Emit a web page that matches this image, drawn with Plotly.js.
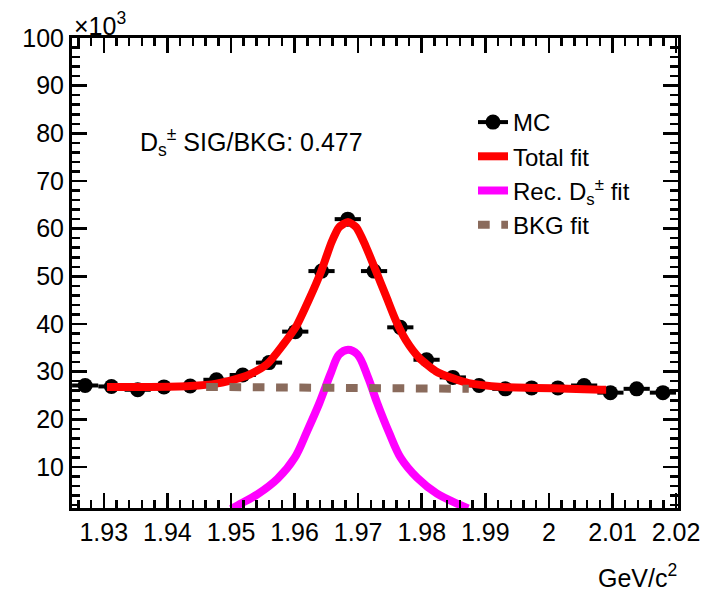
<!DOCTYPE html>
<html><head><meta charset="utf-8">
<script src="https://cdn.plot.ly/plotly-3.0.1.min.js"></script>
<style>html,body{margin:0;padding:0;background:#fff}#chart{width:702px;height:591px}</style>
</head><body><div id="chart"></div>
<script>
// MC histogram (counts in units of 10^3)
const mcX = [1.92707,1.93120,1.93533,1.93946,1.94359,1.94772,1.95185,1.95598,1.96011,1.96424,1.96837,1.97250,1.97663,1.98076,1.98489,1.98902,1.99315,1.99728,2.00141,2.00554,2.00967,2.01380,2.01793];
const mcY = [27.1,26.9,26.2,26.8,27.0,28.3,29.3,31.9,38.4,51.1,62.0,51.1,39.3,32.5,28.8,27.1,26.4,26.6,26.6,27.1,25.6,26.4,25.6];
const mcHalfBin = 0.00206;

// Total fit
const totX = [1.9305,1.9372,1.9435,1.9477,1.9517,1.9529,1.9557,1.9581,1.9603,1.9623,1.9642,1.9658,1.9670,1.9684,1.9697,1.9712,1.9728,1.9744,1.9759,1.9775,1.9796,1.9822,1.9847,1.9874,1.9926,1.9979,2.0031,2.0082,2.0090];
const totY = [26.8,26.8,27.0,27.5,28.8,29.4,31.6,35.5,39.6,45.2,51.1,57.1,60.3,61.4,60.3,56.3,51.1,45.8,40.8,36.6,32.9,30.1,28.7,27.6,26.8,26.6,26.4,26.2,26.2];

// Signal (Rec. Ds) fit
const sigX = [1.9500,1.9511,1.9542,1.9573,1.9600,1.9620,1.9639,1.9657,1.9670,1.9684,1.9699,1.9715,1.9730,1.9749,1.9767,1.9793,1.9824,1.9861,1.9873];
const sigY = [1.2,2.0,4.3,7.5,11.9,17.6,23.4,29.7,33.6,34.6,33.6,29.0,23.4,17.1,11.9,7.7,4.4,2.0,1.3];

// Background fit
const bkgX = [1.9461,1.9670,1.9874];
const bkgY = [26.8,26.6,26.4];

// Axis ticks
const xTickVals = [1.93,1.94,1.95,1.96,1.97,1.98,1.99,2.00,2.01,2.02];
const xTickText = ['1.93','1.94','1.95','1.96','1.97','1.98','1.99','2','2.01','2.02'];
const yTickVals = [10,20,30,40,50,60,70,80,90,100];
const yTickText = ['10','20','30','40','50','60','70','80','90','100'];

const FONT = 'Liberation Sans, Arial, Helvetica, sans-serif';
// plot-area pixel helpers for text placement
const L = 72, R = 678, T = 38, B = 508;
const px = x => (x - L) / (R - L);
const py = y => (B - y) / (B - T);

const traces = [
  {x: mcX, y: mcY, type: 'scatter', mode: 'markers', showlegend: false,
   marker: {color: '#000', size: 15, symbol: 'circle'},
   error_x: {type: 'constant', value: mcHalfBin, color: '#000', thickness: 4, width: 0}},
  {x: [null], y: [null], type: 'scatter', mode: 'lines+markers', name: 'MC', legendgroup: 'a',
   line: {color: '#000', width: 4}, marker: {color: '#000', size: 15}},
  {x: totX, y: totY, type: 'scatter', mode: 'lines', name: 'Total fit', legendgroup: 'b',
   line: {color: '#ff0000', width: 8, shape: 'spline', smoothing: 0.6}},
  {x: sigX, y: sigY, type: 'scatter', mode: 'lines', name: 'Rec. D<sub>s</sub><sup>±</sup> fit', legendgroup: 'c',
   line: {color: '#ff00ff', width: 8, shape: 'spline', smoothing: 1}},
  {x: bkgX, y: bkgY, type: 'scatter', mode: 'lines', name: 'BKG fit', legendgroup: 'd',
   line: {color: '#8a6b5c', width: 8, dash: '11.7px,11.6px'}}
];

const axCommon = {
  showline: true, linecolor: '#000', linewidth: 3, mirror: 'allticks',
  ticks: 'inside', tickcolor: '#000', tickwidth: 2.5, ticklen: 15,
  showgrid: false, zeroline: false,
  tickfont: {family: FONT, size: 25, color: '#000'},
  minor: {ticks: 'inside', ticklen: 8, tickwidth: 2.5, tickcolor: '#000', showgrid: false}
};

const layout = {
  width: 702, height: 591,
  margin: {l: L, r: 702 - R, t: T, b: 591 - B, pad: 0},
  paper_bgcolor: '#fff', plot_bgcolor: '#fff',
  font: {family: FONT, color: '#000'},
  xaxis: Object.assign({}, axCommon, {
    range: [1.925, 2.0203], tickmode: 'array', tickvals: xTickVals, ticktext: xTickText,
    minor: Object.assign({}, axCommon.minor, {dtick: 0.002, tick0: 1.93})
  }),
  yaxis: Object.assign({}, axCommon, {
    range: [1.4, 100], tickmode: 'array', tickvals: yTickVals, ticktext: yTickText,
    minor: Object.assign({}, axCommon.minor, {dtick: 2, tick0: 0})
  }),
  showlegend: true,
  legend: {x: px(473), y: py(100), xanchor: 'left', yanchor: 'top',
    bgcolor: 'rgba(0,0,0,0)', borderwidth: 0, tracegroupgap: 0,
    traceorder: 'grouped', font: {family: FONT, size: 24, color: '#000'}},
  annotations: [
    {xref: 'paper', yref: 'paper', x: px(72), y: py(24), xanchor: 'left', yanchor: 'middle',
     text: '×10<sup>3</sup>', showarrow: false, font: {family: FONT, size: 25, color: '#000'}},
    {xref: 'paper', yref: 'paper', x: px(679), y: py(576), xanchor: 'right', yanchor: 'middle',
     text: 'GeV/c<sup>2</sup>', showarrow: false, font: {family: FONT, size: 25, color: '#000'}},
    {xref: 'paper', yref: 'paper', x: px(138), y: py(142), xanchor: 'left', yanchor: 'middle',
     text: 'D<sub>s</sub><sup>±</sup> SIG/BKG: 0.477', showarrow: false, font: {family: FONT, size: 25, color: '#000'}}
  ]
};

Plotly.newPlot('chart', traces, layout, {displayModeBar: false, staticPlot: true});
</script>
</body></html>
